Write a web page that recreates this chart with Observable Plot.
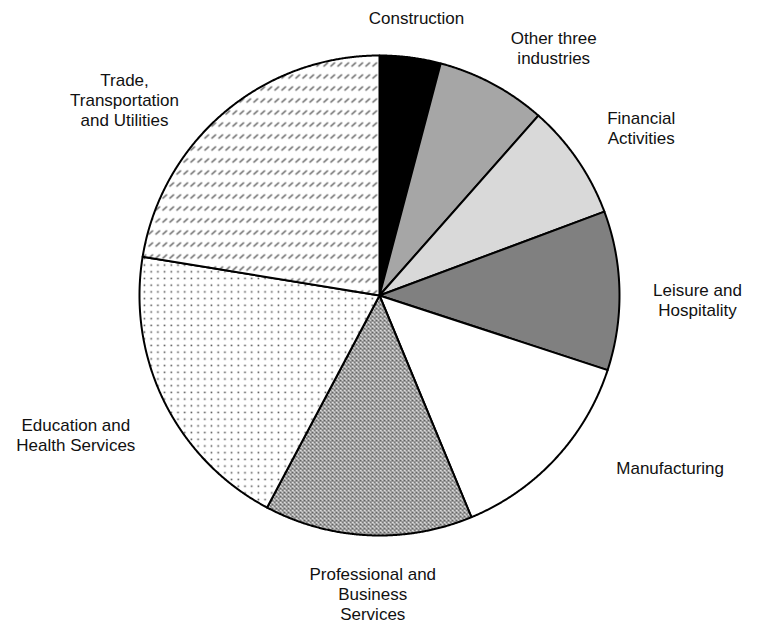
<!DOCTYPE html>
<html>
<head>
<meta charset="utf-8">
<script src="https://cdn.jsdelivr.net/npm/d3@7"></script>
<script src="https://cdn.jsdelivr.net/npm/@observablehq/plot@0.6"></script>
<style>
  html, body { margin: 0; padding: 0; background: #fff; }
  #chart svg { display: block; }
</style>
</head>
<body>
<svg width="0" height="0" style="position:absolute">
  <defs>
    <pattern id="hatchDash" patternUnits="userSpaceOnUse" width="7" height="12">
      <rect width="7" height="12" fill="#fff"/>
      <line x1="1" y1="6" x2="5.5" y2="2" stroke="#555" stroke-width="1.4"/>
    </pattern>
    <pattern id="dots" patternUnits="userSpaceOnUse" width="6.7" height="6.7">
      <rect width="6.7" height="6.7" fill="#fff"/>
      <rect x="2.5" y="2.5" width="1.6" height="1.6" fill="#555"/>
    </pattern>
    <pattern id="cross" patternUnits="userSpaceOnUse" width="4" height="4">
      <rect width="4" height="4" fill="#fff"/>
      <path d="M0,0L4,4M4,0L0,4" stroke="#5a5a5a" stroke-width="1.1"/>
    </pattern>
  </defs>
</svg>
<div id="chart"></div>
<script>
// ---- data ----
const categories = [
  "Construction",
  "Other three industries",
  "Financial Activities",
  "Leisure and Hospitality",
  "Manufacturing",
  "Professional and Business Services",
  "Education and Health Services",
  "Trade, Transportation and Utilities"
];
const shares = [4.1, 7.4, 7.8, 10.7, 13.7, 14.0, 19.8, 22.4];
const labelTexts = [
  "Construction",
  "Other three\nindustries",
  "Financial\nActivities",
  "Leisure and\nHospitality",
  "Manufacturing",
  "Professional and\nBusiness\nServices",
  "Education and\nHealth Services",
  "Trade,\nTransportation\nand Utilities"
];

// ---- styles / layout ----
const fills = ["#000000", "#a6a6a6", "#d9d9d9", "#808080", "#ffffff",
               "url(#cross)", "url(#dots)", "url(#hatchDash)"];
const W = 758, H = 627;
const cx = 379, cy = 295, R = 240;
const labelAngle = [7.6, 35.1, 57.3, 90.7, 120.7, 181.3, 245.4, 307.55];
const labelRadius = [280, 303, 311, 318, 338, 298, 334, 321.6];

// ---- geometry from data ----
const arcs = d3.pie().sort(null).value(d => d)(shares);
const pts = [];
arcs.forEach((a, i) => {
  pts.push({k: i, x: cx, y: cy, fill: fills[i]});
  const n = Math.max(2, Math.ceil((a.endAngle - a.startAngle) / (Math.PI / 720)));
  for (let j = 0; j <= n; j++) {
    const t = a.startAngle + (a.endAngle - a.startAngle) * j / n;
    pts.push({k: i, x: cx + R * Math.sin(t), y: cy - R * Math.cos(t), fill: fills[i]});
  }
  pts.push({k: i, x: cx, y: cy, fill: fills[i]});
});
const labels = labelTexts.map((t, i) => {
  const a = labelAngle[i] * Math.PI / 180;
  return {text: t, x: cx + labelRadius[i] * Math.sin(a), y: cy - labelRadius[i] * Math.cos(a)};
});

const chart = Plot.plot({
  width: W, height: H,
  margin: 0,
  x: {domain: [0, W], range: [0, W], axis: null},
  y: {domain: [0, H], range: [0, H], axis: null},
  color: {type: "identity"},
  marks: [
    Plot.line(pts, {x: "x", y: "y", z: "k", fill: "fill", stroke: "black",
      strokeWidth: 2, strokeLinejoin: "round", curve: "linear"}),
    Plot.text(labels, {x: "x", y: "y", text: "text", fontSize: 17,
      fontFamily: "Liberation Sans, Arial, sans-serif", fill: "#111",
      textAnchor: "middle", lineAnchor: "middle", lineHeight: 1.18})
  ]
});
document.getElementById("chart").appendChild(chart);
</script>
</body>
</html>
